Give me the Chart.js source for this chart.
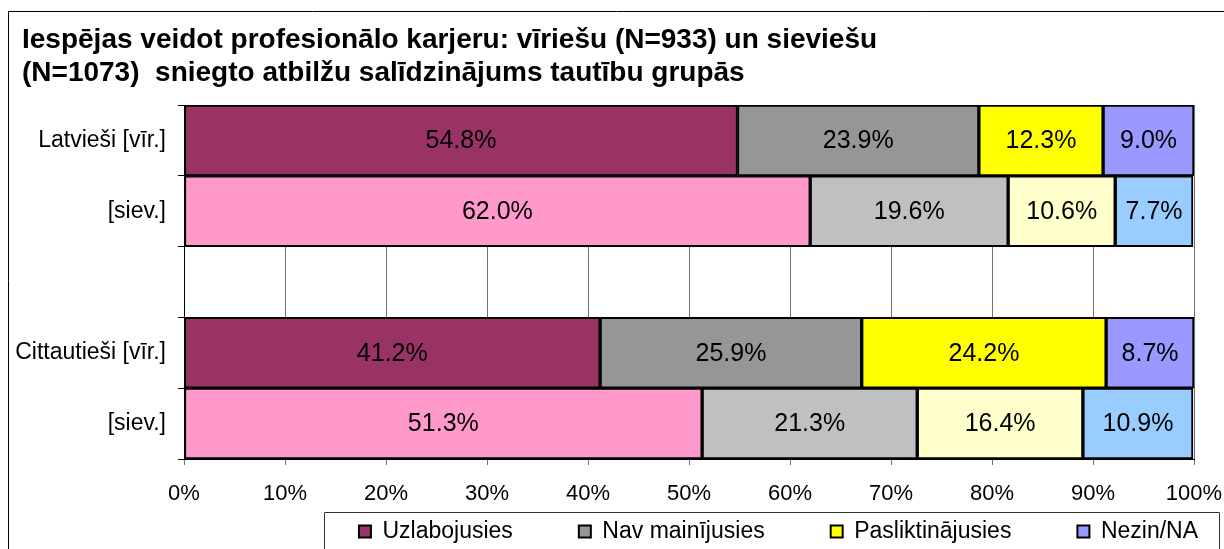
<!DOCTYPE html>
<html><head><meta charset="utf-8">
<script src="https://cdn.jsdelivr.net/npm/chart.js@4"></script>
<style>html,body{margin:0;padding:0;background:#fff;overflow:hidden}#wrap{width:1224px;height:549px;position:relative}</style>
</head><body><div id="wrap"><canvas id="c" width="1224" height="549"></canvas></div>
<script>
// ---- data ----
const titleLines = ["Iespējas veidot profesionālo karjeru: vīriešu (N=933) un sieviešu", "(N=1073)  sniegto atbilžu salīdzinājums tautību grupās"];
const categories = ["Latvieši [vīr.]", "[siev.]", "", "Cittautieši [vīr.]", "[siev.]"];
const seriesNames = ["Uzlabojusies", "Nav mainījusies", "Pasliktinājusies", "Nezin/NA"];
const uzlabojusies = [54.8, 62.0, null, 41.2, 51.3];
const navMainijusies = [23.9, 19.6, null, 25.9, 21.3];
const pasliktinajusies = [12.3, 10.6, null, 24.2, 16.4];
const nezin = [9.0, 7.7, null, 8.7, 10.9];
const xTickValues = [0, 10, 20, 30, 40, 50, 60, 70, 80, 90, 100];
const xTickLabels = ["0%", "10%", "20%", "30%", "40%", "50%", "60%", "70%", "80%", "90%", "100%"];
// men rows use the first palette, women rows the second
const menColors = ["#993366", "#969696", "#FFFF00", "#9999FF"];
const womenColors = ["#FF99CC", "#C0C0C0", "#FFFFCC", "#99CCFF"];
const rowIsWomen = [false, true, false, false, true];

const FONT = "'Liberation Sans', Arial, sans-serif";
const seriesValues = [uzlabojusies, navMainijusies, pasliktinajusies, nezin];

const datasets = seriesValues.map((vals, s) => ({
  label: seriesNames[s],
  data: vals,
  backgroundColor: rowIsWomen.map(w => w ? womenColors[s] : menColors[s]),
  borderColor: "#000000",
  borderWidth: 2,
  borderSkipped: false,
  barPercentage: 1.0,
  categoryPercentage: 1.0
}));

const LEGEND_PAD = 66;
const LEGEND_FRAME = {left: 324, top: 512, right: 1219};

const valueLabels = {
  id: "valueLabels",
  afterDatasetsDraw(chart) {
    const ctx = chart.ctx;
    ctx.save();
    ctx.font = "25px " + FONT;
    ctx.fillStyle = "#000";
    ctx.textAlign = "center";
    ctx.textBaseline = "middle";
    chart.data.datasets.forEach((ds, di) => {
      chart.getDatasetMeta(di).data.forEach((el, i) => {
        const v = ds.data[i];
        if (v === null || v === undefined) return;
        const p = el.getProps(["x", "y", "base"], true);
        ctx.fillText(v.toFixed(1) + "%", (p.x + p.base) / 2, p.y + 1);
      });
    });
    ctx.restore();
  }
};

const frames = {
  id: "frames",
  beforeDraw(chart) {
    const lg = chart.legend;
    if (lg) {
      lg.right = 1300;
      lg.left = 1557 - lg.right;
      lg.top = 520 - LEGEND_PAD;
    }
    if (chart.titleBlock) {
      chart.titleBlock.left = 22;
    }
  },
  afterDraw(chart) {
    const ctx = chart.ctx;
    ctx.save();
    ctx.strokeStyle = "#000";
    ctx.lineWidth = 1;
    ctx.beginPath();
    ctx.moveTo(8.5, 549);
    ctx.lineTo(8.5, 11.5);
    ctx.lineTo(1224, 11.5);
    ctx.stroke();
    ctx.strokeStyle = "#333";
    ctx.beginPath();
    ctx.moveTo(LEGEND_FRAME.left + 0.5, 549);
    ctx.lineTo(LEGEND_FRAME.left + 0.5, LEGEND_FRAME.top + 0.5);
    ctx.lineTo(LEGEND_FRAME.right + 0.5, LEGEND_FRAME.top + 0.5);
    ctx.lineTo(LEGEND_FRAME.right + 0.5, 549);
    ctx.stroke();
    ctx.restore();
  }
};

new Chart(document.getElementById("c"), {
  type: "bar",
  data: {labels: categories, datasets},
  plugins: [valueLabels, frames],
  options: {
    indexAxis: "y",
    responsive: false,
    animation: false,
    devicePixelRatio: 1,
    layout: {padding: {left: 0, right: 30, top: 0, bottom: 0}},
    scales: {
      x: {
        stacked: true,
        min: 0,
        max: 100,
        afterBuildTicks(scale) { scale.ticks = xTickValues.map(v => ({value: v})); },
        afterFit(scale) { scale.height = 53; scale.paddingRight = 30; scale.paddingLeft = 14; },
        ticks: {
          callback: (v) => xTickLabels[xTickValues.indexOf(v)],
          color: "#000",
          font: {family: FONT, size: 22},
          padding: 16,
          maxRotation: 0
        },
        grid: {color: "#707070", lineWidth: 1, tickLength: 6, drawOnChartArea: true},
        border: {display: true, color: "#000", width: 1}
      },
      y: {
        stacked: true,
        afterFit(scale) { scale.width = 184; },
        ticks: {color: "#000", font: {family: FONT, size: 23}, padding: 12},
        grid: {drawOnChartArea: false, color: "#000", tickLength: 6, lineWidth: 1},
        border: {display: true, color: "#000", width: 1}
      }
    },
    plugins: {
      tooltip: {enabled: false},
      title: {
        display: true,
        text: titleLines,
        align: "start",
        color: "#000",
        font: {family: FONT, size: 28, weight: "bold", lineHeight: "33px"},
        padding: {top: 24, bottom: 15}
      },
      legend: {
        position: "bottom",
        maxHeight: 37,
        labels: {
          color: "#000",
          font: {family: FONT, size: 23},
          boxWidth: 12,
          boxHeight: 12,
          padding: LEGEND_PAD,
          generateLabels: () => seriesNames.map((n, s) => ({
            text: n, fillStyle: menColors[s], strokeStyle: "#000", lineWidth: 2, hidden: false, datasetIndex: s
          }))
        }
      }
    }
  }
});
</script></body></html>
